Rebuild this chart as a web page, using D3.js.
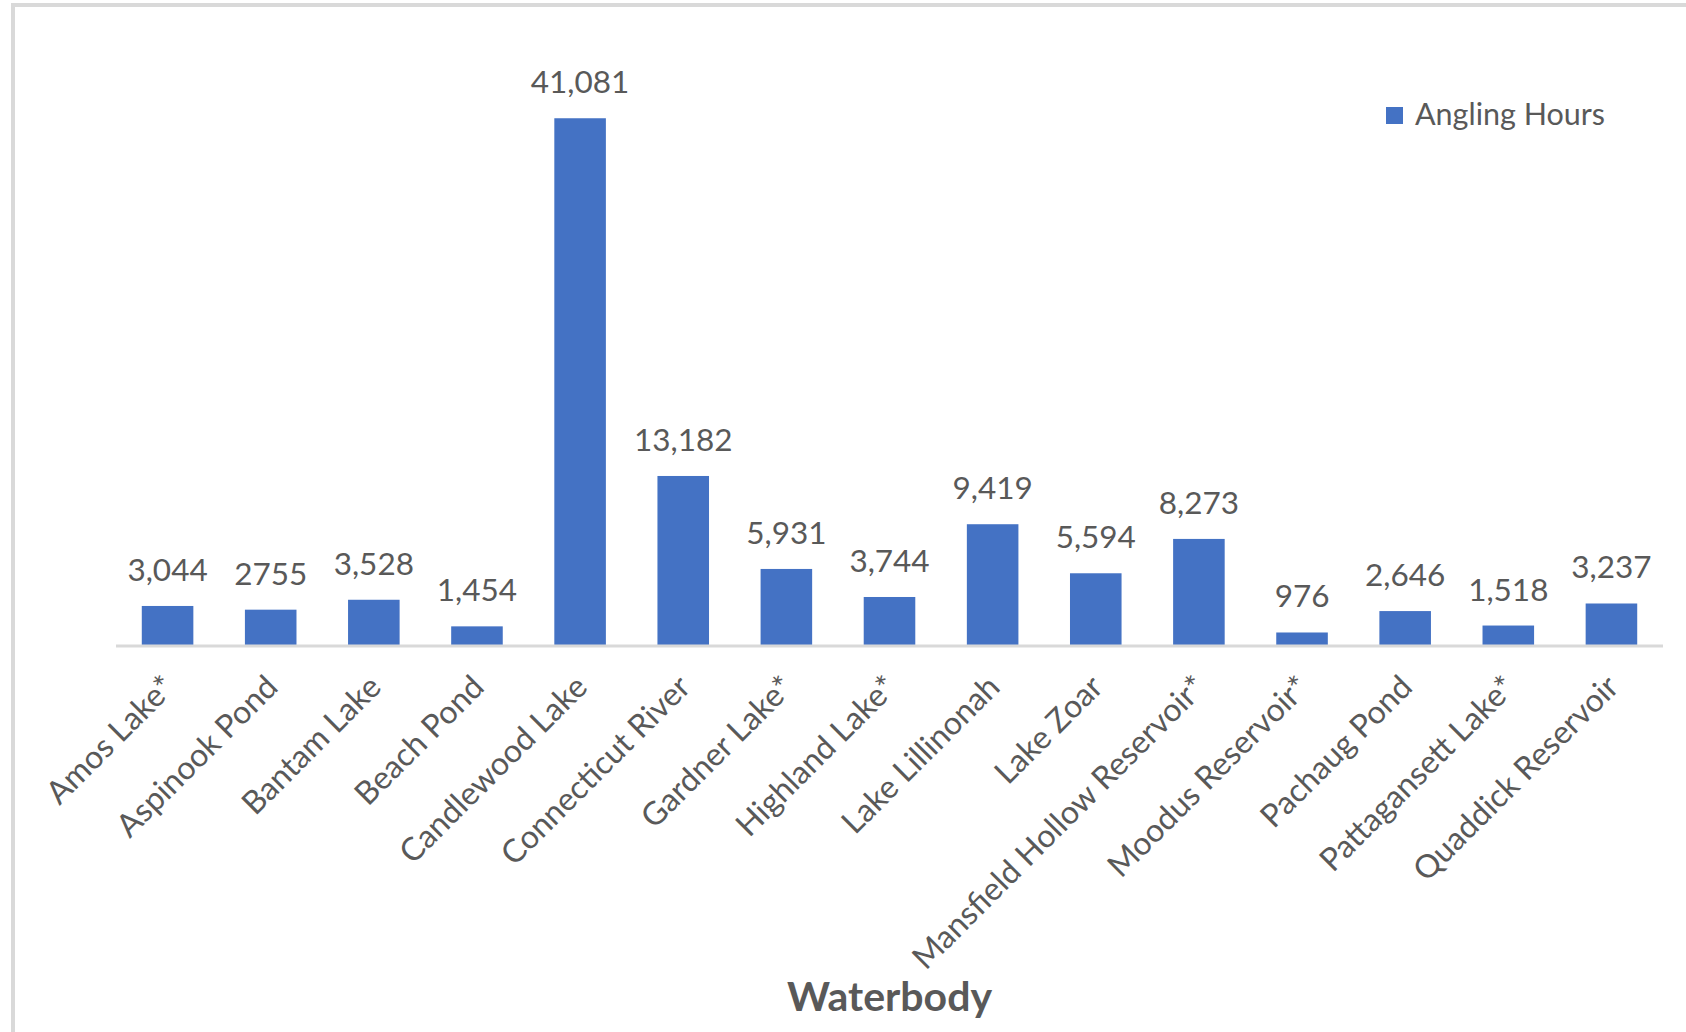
<!DOCTYPE html>
<html>
<head>
<meta charset="utf-8">
<script src="https://cdn.jsdelivr.net/npm/d3@7"></script>
<style>
  html, body { margin: 0; padding: 0; background: #ffffff; }
  svg { display: block; }
  text { font-family: Lato, "Open Sans", sans-serif; fill: #595959; }
</style>
</head>
<body>
<svg id="chart" width="1686" height="1032"></svg>
<script>
// Angling hours by waterbody
const categories = [
  "Amos Lake*", "Aspinook Pond", "Bantam Lake", "Beach Pond", "Candlewood Lake",
  "Connecticut River", "Gardner Lake*", "Highland Lake*", "Lake Lillinonah", "Lake Zoar",
  "Mansfield Hollow Reservoir*", "Moodus Reservoir*", "Pachaug Pond", "Pattagansett Lake*", "Quaddick Reservoir"
];
const anglingHours = [3044, 2755, 3528, 1454, 41081, 13182, 5931, 3744, 9419, 5594, 8273, 976, 2646, 1518, 3237];
const valueLabels = ["3,044", "2755", "3,528", "1,454", "41,081", "13,182", "5,931", "3,744", "9,419", "5,594", "8,273", "976", "2,646", "1,518", "3,237"];
const seriesName = "Angling Hours";
const axisTitle = "Waterbody";
const yMax = 45000;

const svg = d3.select("#chart");
const W = 1686, H = 1032;
const plot = { left: 116, right: 1663, top: 68, bottom: 645 };

// chart frame
svg.append("rect")
  .attr("x", 13).attr("y", 5)
  .attr("width", W + 20).attr("height", H + 20)
  .attr("fill", "#ffffff")
  .attr("stroke", "#d9d9d9").attr("stroke-width", 4);

const x = d3.scaleBand()
  .domain(categories)
  .range([plot.left, plot.right])
  .paddingInner(0.5).paddingOuter(0.25);

const y = d3.scaleLinear()
  .domain([0, yMax])
  .range([plot.bottom, plot.top]);

const data = categories.map((c, i) => ({ name: c, value: anglingHours[i], label: valueLabels[i] }));

// bars
svg.append("g").selectAll("rect")
  .data(data)
  .join("rect")
  .attr("x", d => x(d.name))
  .attr("y", d => y(d.value))
  .attr("width", x.bandwidth())
  .attr("height", d => y(0) - y(d.value))
  .attr("fill", "#4472c4");

// category axis
const xAxis = svg.append("g")
  .attr("transform", `translate(0,${plot.bottom})`)
  .call(d3.axisBottom(x).tickSize(0).tickPadding(0).tickSizeOuter(0));
xAxis.select(".domain")
  .attr("d", `M${plot.left},0H${plot.right}`)
  .attr("stroke", "#d9d9d9").attr("stroke-width", 3)
  .attr("transform", "translate(0,1)");
xAxis.selectAll(".tick text")
  .attr("font-family", "Lato, sans-serif")
  .attr("font-size", 32)
  .attr("fill", "#595959")
  .attr("text-anchor", "end")
  .attr("dy", 0)
  .attr("transform", "translate(9,44) rotate(-45)");

// value labels
svg.append("g").selectAll("text")
  .data(data)
  .join("text")
  .attr("x", d => x(d.name) + x.bandwidth() / 2)
  .attr("y", d => y(d.value) - 25)
  .attr("text-anchor", "middle")
  .attr("font-size", 31.5)
  .text(d => d.label);

// axis title
svg.append("text")
  .attr("x", (plot.left + plot.right) / 2)
  .attr("y", 1011)
  .attr("text-anchor", "middle")
  .attr("font-size", 41)
  .attr("font-weight", "bold")
  .text(axisTitle);

// legend
const legend = svg.append("g").attr("transform", "translate(1386,107)");
legend.append("rect").attr("width", 17).attr("height", 17).attr("fill", "#4472c4");
legend.append("text").attr("x", 29).attr("y", 18).attr("font-size", 30.5).text(seriesName);
</script>
</body>
</html>
